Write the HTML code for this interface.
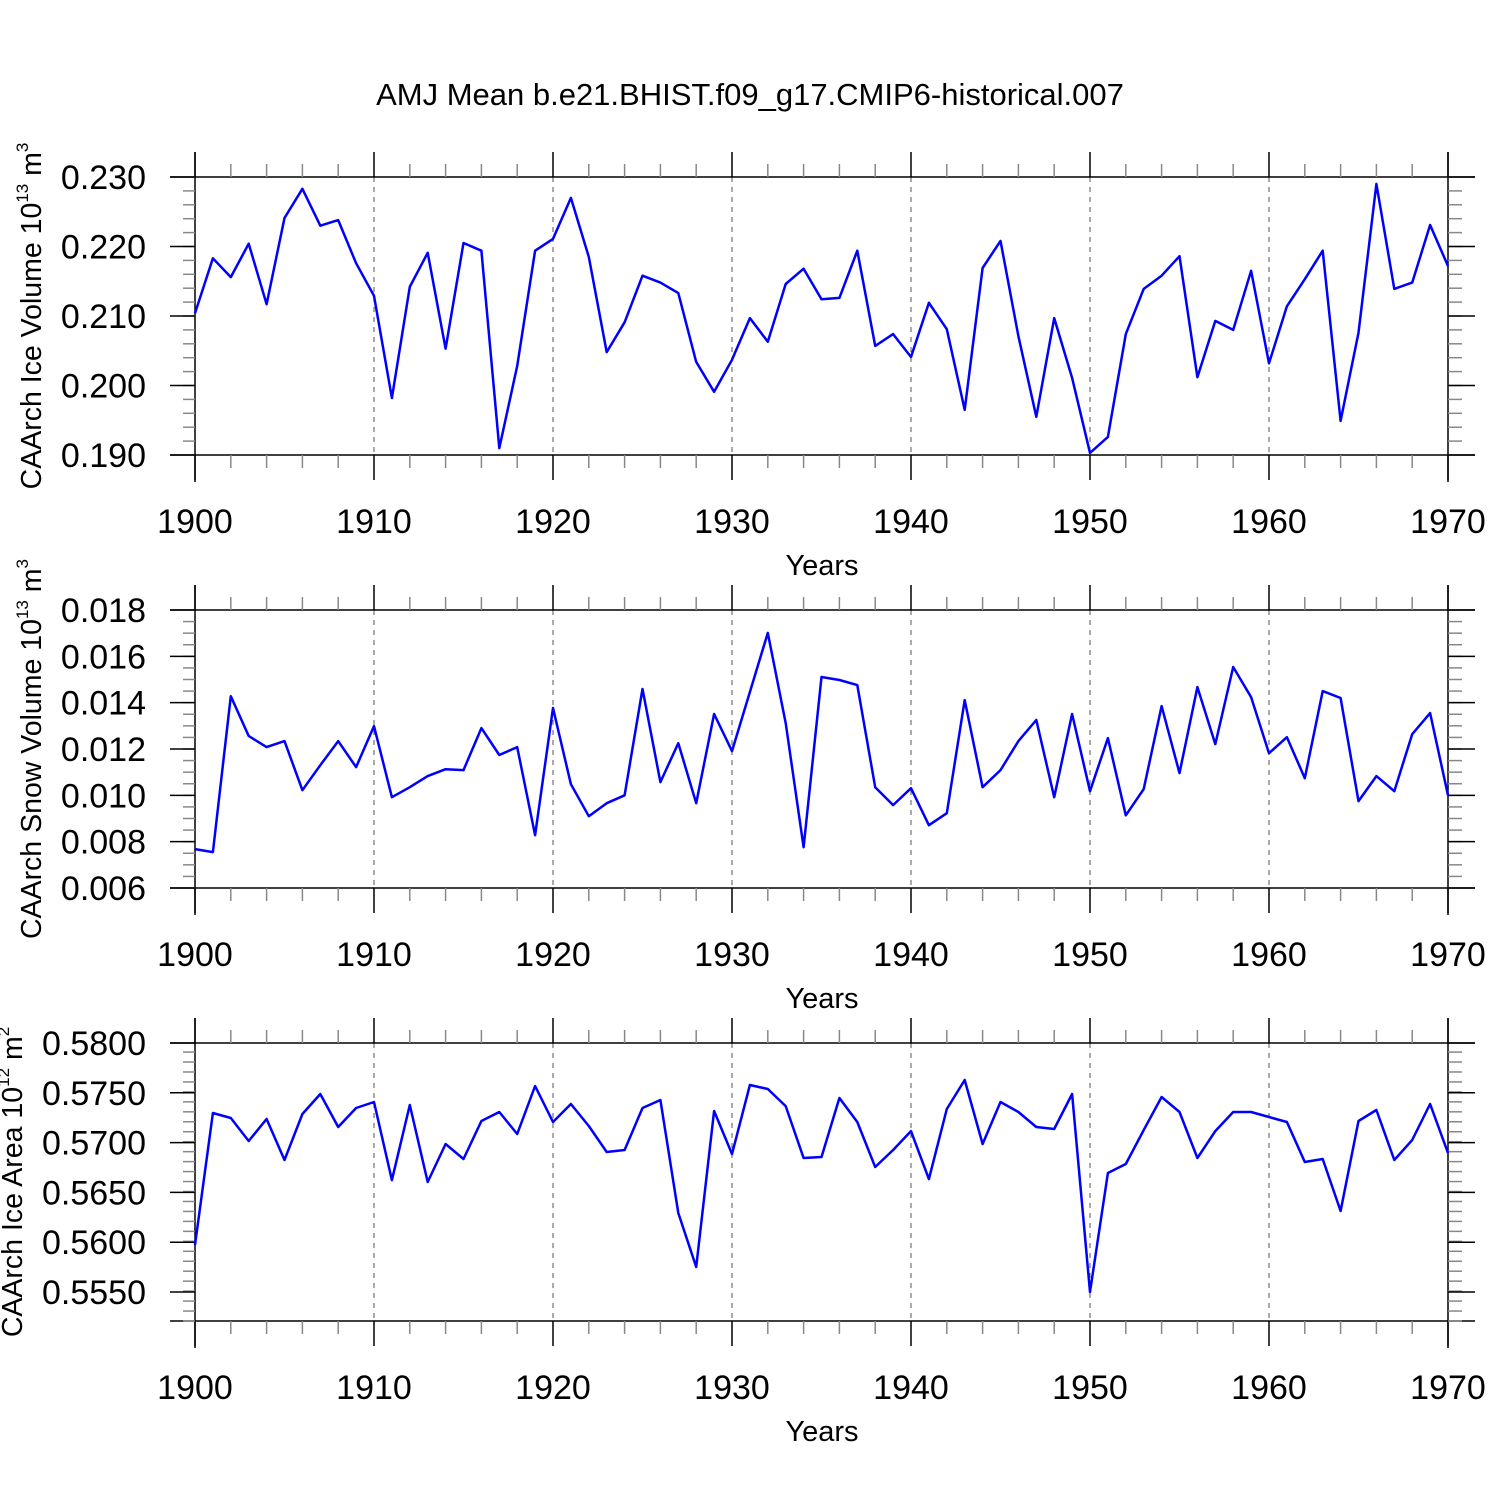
<!DOCTYPE html>
<html><head><meta charset="utf-8"><style>
html,body{margin:0;padding:0;background:#fff;}
svg{display:block;font-family:"Liberation Sans",sans-serif;}
</style></head><body>
<svg id="c" width="1500" height="1500" viewBox="0 0 1500 1500">
<text x="750" y="105" font-size="31" text-anchor="middle">AMJ Mean b.e21.BHIST.f09_g17.CMIP6-historical.007</text>
</svg>
<script>
const years = [];
for (let y = 1900; y <= 1970; y++) years.push(y);
const iceVolume = [0.2104,0.2183,0.2156,0.2204,0.2117,0.2241,0.2283,0.2230,0.2238,0.2176,0.2129,0.1982,0.2142,0.2191,0.2053,0.2205,0.2194,0.1910,0.2028,0.2194,0.2211,0.2270,0.2185,0.2048,0.2091,0.2158,0.2148,0.2133,0.2034,0.1991,0.2037,0.2097,0.2063,0.2146,0.2168,0.2124,0.2126,0.2194,0.2057,0.2074,0.2041,0.2119,0.2081,0.1965,0.2169,0.2208,0.2071,0.1955,0.2097,0.2011,0.1903,0.1926,0.2074,0.2139,0.2158,0.2186,0.2012,0.2093,0.2080,0.2165,0.2032,0.2114,0.2153,0.2194,0.1949,0.2076,0.2290,0.2139,0.2148,0.2231,0.2172];
const snowVolume = [0.00768,0.00755,0.01428,0.01256,0.01208,0.01234,0.01022,0.0113,0.01234,0.01122,0.01299,0.00992,0.01035,0.01083,0.01113,0.01109,0.0129,0.01174,0.01208,0.00828,0.01377,0.01048,0.0091,0.00966,0.01,0.01459,0.01057,0.01225,0.00966,0.01351,0.01191,0.01446,0.01701,0.01312,0.00776,0.01511,0.01498,0.01476,0.01035,0.00958,0.01031,0.00871,0.00923,0.01411,0.01035,0.01109,0.01234,0.01325,0.00992,0.01351,0.01018,0.01247,0.00914,0.01027,0.01385,0.01096,0.01467,0.01221,0.01554,0.01424,0.01182,0.01251,0.01074,0.0145,0.0142,0.00975,0.01083,0.01018,0.01264,0.01355,0.01];
const iceArea = [0.55972,0.57297,0.57247,0.57016,0.57237,0.56825,0.57287,0.57488,0.57157,0.57347,0.57408,0.56624,0.57378,0.56604,0.56986,0.56835,0.57217,0.57307,0.57086,0.57568,0.57207,0.57388,0.57167,0.56906,0.56926,0.57347,0.57428,0.56293,0.55751,0.57317,0.56886,0.57578,0.57538,0.57367,0.56845,0.56855,0.57448,0.57207,0.56755,0.56926,0.57116,0.56634,0.57337,0.57629,0.56986,0.57408,0.57307,0.57157,0.57137,0.57488,0.555,0.56695,0.56785,0.57126,0.57458,0.57307,0.56845,0.57116,0.57307,0.57307,0.57257,0.57207,0.56805,0.56835,0.56313,0.57217,0.57327,0.56825,0.57026,0.57388,0.56896];
const xTicks = [1900,1910,1920,1930,1940,1950,1960,1970];
const ticks1 = ["0.190","0.200","0.210","0.220","0.230"];
const ticks2 = ["0.006","0.008","0.010","0.012","0.014","0.016","0.018"];
const ticks3 = ["0.5550","0.5600","0.5650","0.5700","0.5750","0.5800"];

const NS = "http://www.w3.org/2000/svg";
const svg = document.getElementById('c');
function mk(tag, attrs, parent) {
  const e = document.createElementNS(NS, tag);
  for (const k in attrs) e.setAttribute(k, attrs[k]);
  (parent || svg).appendChild(e);
  return e;
}
const X0 = 195, X1 = 1448, H = 278;
function xs(v) { return X0 + (v - 1900) / 70 * (X1 - X0); }

function panel(idx, top, ymin, ymax, ticks, minorStep, data, titleMain, sup, unit, titleX) {
  const g = mk('g', {});
  
  
  const bot = top + H;
  const ys = v => bot - (v - ymin) / (ymax - ymin) * H;
  xTicks.slice(1, -1).forEach(t => {
    const l = mk('line', {x1: xs(t), x2: xs(t), y1: top, y2: bot, stroke: '#555', 'stroke-width': 1, 'stroke-dasharray': '5,5'}, g);
    
    
  });
  const st = {stroke: '#000', 'stroke-width': 1.5};
  mk('line', Object.assign({x1: X0 - 25, x2: X1 + 27, y1: top, y2: top}, st), g);
  mk('line', Object.assign({x1: X0 - 25, x2: X1 + 27, y1: bot, y2: bot}, st), g);
  mk('line', Object.assign({x1: X0, x2: X0, y1: top - 25, y2: bot + 27}, st), g);
  mk('line', Object.assign({x1: X1, x2: X1, y1: top - 25, y2: bot + 27}, st), g);
  for (let y = 1900; y <= 1970; y += 2) {
    const major = (y % 10 === 0);
    const len = major ? 25 : 13;
    mk('line', {x1: xs(y), x2: xs(y), y1: top, y2: top - len, stroke: major ? '#000' : '#888', 'stroke-width': 1.5}, g);
    mk('line', {x1: xs(y), x2: xs(y), y1: bot, y2: bot + len, stroke: major ? '#000' : '#888', 'stroke-width': 1.5}, g);
  }
  xTicks.forEach(t => {
    const tx = mk('text', {x: xs(t), y: bot + 78, 'font-size': 34, 'text-anchor': 'middle'}, g);
    tx.textContent = t;
    
    
  });
  const xt = mk('text', {x: 822, y: bot + 120, 'font-size': 29, 'text-anchor': 'middle'}, g);
  xt.textContent = 'Years';
  
  
  const n = Math.round((ymax - ymin) / minorStep);
  for (let i = 0; i <= n; i++) {
    const v = ymin + i * minorStep; const yy = ys(v);
    if (yy < top - 0.5 || yy > bot + 0.5) continue;
    mk('line', {x1: X0 - 12, x2: X0, y1: yy, y2: yy, stroke: '#888', 'stroke-width': 1.5}, g);
    mk('line', {x1: X1, x2: X1 + 14, y1: yy, y2: yy, stroke: '#888', 'stroke-width': 1.5}, g);
  }
  ticks.forEach(t => {
    const yy = ys(parseFloat(t));
    mk('line', Object.assign({x1: X0 - 25, x2: X0, y1: yy, y2: yy}, st), g);
    mk('line', Object.assign({x1: X1, x2: X1 + 27, y1: yy, y2: yy}, st), g);
    const tx = mk('text', {x: 146, y: yy + 12, 'font-size': 34, 'text-anchor': 'end'}, g);
    tx.textContent = t;
    
    
  });
  const cy = top + H / 2;
  const yt = mk('text', {x: titleX, y: cy, 'font-size': 28.5, 'text-anchor': 'middle', transform: 'rotate(-90 ' + titleX + ' ' + cy + ')'}, g);
  
  
  const a = mk('tspan', {}, yt); a.textContent = titleMain + ' 10';
  const b = mk('tspan', {'font-size': 17, dy: -13}, yt); b.textContent = sup;
  const c = mk('tspan', {dy: 13}, yt); c.textContent = ' m';
  const d = mk('tspan', {'font-size': 17, dy: -13}, yt); d.textContent = unit;
  const pts = data.map((v, i) => xs(years[i]).toFixed(1) + ',' + ys(v).toFixed(1)).join(' ');
  const pl = mk('polyline', {points: pts, fill: 'none', stroke: '#0000ff', 'stroke-width': 2.5, 'stroke-linejoin': 'round'}, g);
  
  
}
panel(1, 177, 0.19, 0.23, ticks1, 0.002, iceVolume, 'CAArch Ice Volume', '13', '3', 41);
panel(2, 610, 0.006, 0.018, ticks2, 0.0005, snowVolume, 'CAArch Snow Volume', '13', '3', 41);
panel(3, 1043, 0.58 - 0.02791, 0.58, ticks3, 0.001, iceArea, 'CAArch Ice Area', '12', '2', 22);
</script>
</body></html>
